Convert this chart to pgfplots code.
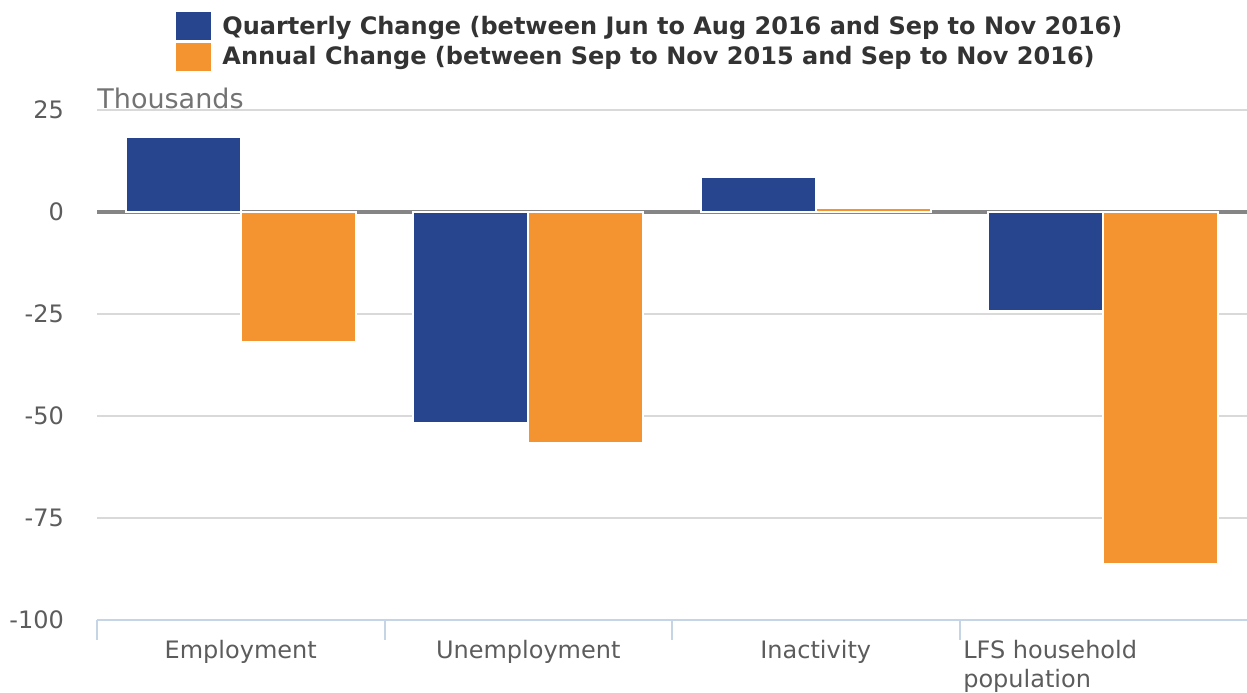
\documentclass[border=0pt]{standalone}
\usepackage{fontspec}
\setmainfont{DejaVu Sans}
\usepackage{pgfplots}
\pgfplotsset{compat=1.18}

\definecolor{qblue}{HTML}{27448F}
\definecolor{aorange}{HTML}{F39430}
\definecolor{gridgray}{HTML}{D9D9D9}
\definecolor{zerogray}{HTML}{858585}
\definecolor{axisblue}{HTML}{C5D5E6}
\definecolor{labelgray}{HTML}{5C5C5C}
\definecolor{unitgray}{HTML}{737373}
\definecolor{legtext}{HTML}{333333}

\begin{document}
\begin{tikzpicture}
% fixed page: 1247x692 px at 0.5pt per px, axis box lower left at origin
\path[use as bounding box] (-48.5pt,-36pt) rectangle (575pt,310pt);
\begin{axis}[
    at={(0,0)}, anchor=south west,
    scale only axis,
    width=575pt, height=255pt,
    xmin=-0.5, xmax=3.5,
    ymin=-100, ymax=25,
    ytick={-100,-75,-50,-25,0,25},
    ymajorgrids,
    major grid style={gridgray, line width=1pt},
    axis x line*=bottom,
    axis y line*=left,
    x axis line style={axisblue, line width=1pt, -},
    y axis line style={draw=none},
    ytick style={draw=none},
    % category boundaries carry the tick marks, names sit at the centres
    xtick={-0.5,0.5,1.5,2.5},
    xticklabels={},
    tick align=outside,
    major tick length=10pt,
    xtick style={axisblue, line width=1pt},
    extra x ticks={0,1,2,3},
    extra x tick labels={Employment, Unemployment, Inactivity,
      {\parbox[t]{140pt}{\raggedright LFS household\\population}}},
    extra x tick style={major tick length=0pt, xtick style={draw=none}},
    xticklabel style={font=\fontsize{12}{14.5}\selectfont, color=labelgray, yshift=-6.5pt},
    yticklabel style={font=\fontsize{12}{14}\selectfont, color=labelgray, anchor=east, xshift=-3pt},
    /pgf/number format/assume math mode=true,
    ybar=0pt,
    bar width=57.5pt,
    clip=false,
    legend style={draw=none, fill=none, at={(axis description cs:0.0670,1.196)},
      anchor=north west, inner sep=0pt, row sep=-0.8pt,
      font=\bfseries\fontsize{12}{14}\selectfont, text=legtext,
      nodes={inner xsep=4.5pt}},
    legend cell align=left,
    legend image code/.code={\fill[#1] (0pt,-7.5pt) rectangle (18.5pt,7.5pt);},
]
\draw[zerogray, line width=2pt] (axis cs:-0.5,0) -- (axis cs:3.5,0);
\addplot[fill=qblue, draw=white, line width=1pt] coordinates {
    (0,18.4) (1,-51.7) (2,8.6) (3,-24.3)
};
\addplot[fill=aorange, draw=white, line width=1pt] coordinates {
    (0,-31.9) (1,-56.6) (2,0.9) (3,-86.3)
};
\legend{Quarterly Change (between Jun to Aug 2016 and Sep to Nov 2016),
        Annual Change (between Sep to Nov 2015 and Sep to Nov 2016)}
\node[anchor=base west, inner sep=0pt, color=unitgray, font=\fontsize{13.5}{16}\selectfont]
    at (axis cs:-0.5,25) [yshift=1pt] {Thousands};
\end{axis}
\end{tikzpicture}
\end{document}
